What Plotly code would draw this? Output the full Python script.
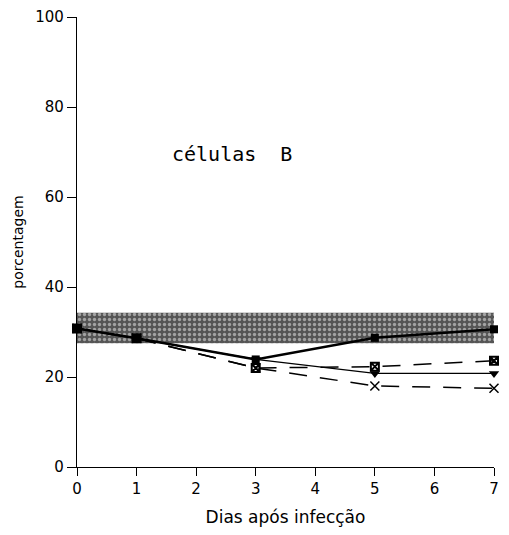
import plotly.graph_objects as go

days = [0, 1, 3, 5, 7]
serie_a = [30.8, 28.6, 23.9, 28.7, 30.6]   # thick solid, filled squares
serie_b = [30.8, 28.6, 23.9, 20.8, 20.8]   # thin solid, down triangles
serie_c = [30.8, 28.6, 22.0, 22.3, 23.6]   # dashed, boxed squares
serie_d = [30.8, 28.6, 22.0, 18.0, 17.5]   # dashed, x markers

band_x = [0, 7]
band_low = [27.5, 27.5]
band_high = [34.3, 34.3]

x_ticks = [0, 1, 2, 3, 4, 5, 6, 7]
y_ticks = [0, 20, 40, 60, 80, 100]

fig = go.Figure()

fig.add_trace(go.Scatter(x=band_x, y=band_high, mode="lines", line=dict(width=0, color="#555"),
                         showlegend=False, hoverinfo="skip"))
fig.add_trace(go.Scatter(x=band_x, y=band_low, mode="lines", line=dict(width=0, color="#555"),
                         fill="tonexty", fillcolor="#666",
                         fillpattern=dict(shape=".", bgcolor="#555", fgcolor="#f2f2f2", size=5, solidity=0.35),
                         showlegend=False, hoverinfo="skip"))

fig.add_trace(go.Scatter(x=days, y=serie_d, mode="lines+markers",
                         line=dict(color="black", width=1.5, dash="18px,13px"),
                         marker=dict(symbol="x-thin-open", size=9, color="black", line=dict(width=1.5, color="black")),
                         cliponaxis=False, showlegend=False))
fig.add_trace(go.Scatter(x=days, y=serie_c, mode="lines+markers",
                         line=dict(color="black", width=1.5, dash="18px,13px"),
                         marker=dict(symbol="square-x-open", size=8, color="black", line=dict(width=2, color="black")),
                         cliponaxis=False, showlegend=False))
fig.add_trace(go.Scatter(x=days, y=serie_b, mode="lines+markers",
                         line=dict(color="black", width=1.3),
                         marker=dict(symbol="triangle-down", size=9, color="black"),
                         cliponaxis=False, showlegend=False))
fig.add_trace(go.Scatter(x=days, y=serie_a, mode="lines+markers",
                         line=dict(color="black", width=2.5),
                         marker=dict(symbol="square", size=8, color="black"),
                         cliponaxis=False, showlegend=False))

fig.add_annotation(x=2.6, y=69.6, xref="x", yref="y", text="células  B", showarrow=False,
                   font=dict(family="DejaVu Sans Mono", size=20, color="black"))

axis_font = dict(family="DejaVu Sans", size=15, color="black")

fig.update_layout(
    width=501, height=519,
    margin=dict(l=69, r=15, t=9, b=60),
    paper_bgcolor="white", plot_bgcolor="white",
    font=dict(family="DejaVu Sans", color="black"),
    xaxis=dict(range=[0, 7], tickvals=x_ticks, ticktext=[str(v) for v in x_ticks], automargin=False,
               ticklabeloverflow="allow",
               showgrid=False, zeroline=False, showline=True, linecolor="black", linewidth=1.2,
               ticks="outside", ticklen=8, tickwidth=1.2, tickcolor="black", tickfont=axis_font,
               title=dict(text="Dias após infecção", font=dict(family="DejaVu Sans", size=17), standoff=16)),
    yaxis=dict(range=[0, 100], tickvals=y_ticks, ticktext=[str(v) for v in y_ticks], automargin=False,
               ticklabeloverflow="allow",
               showgrid=False, zeroline=False, showline=True, linecolor="black", linewidth=1.2,
               ticks="outside", ticklen=9, tickwidth=1.2, tickcolor="black", tickfont=axis_font,
               title=dict(text="porcentagem", font=dict(family="DejaVu Sans", size=14), standoff=8)),
)

fig.write_html("out.html")
